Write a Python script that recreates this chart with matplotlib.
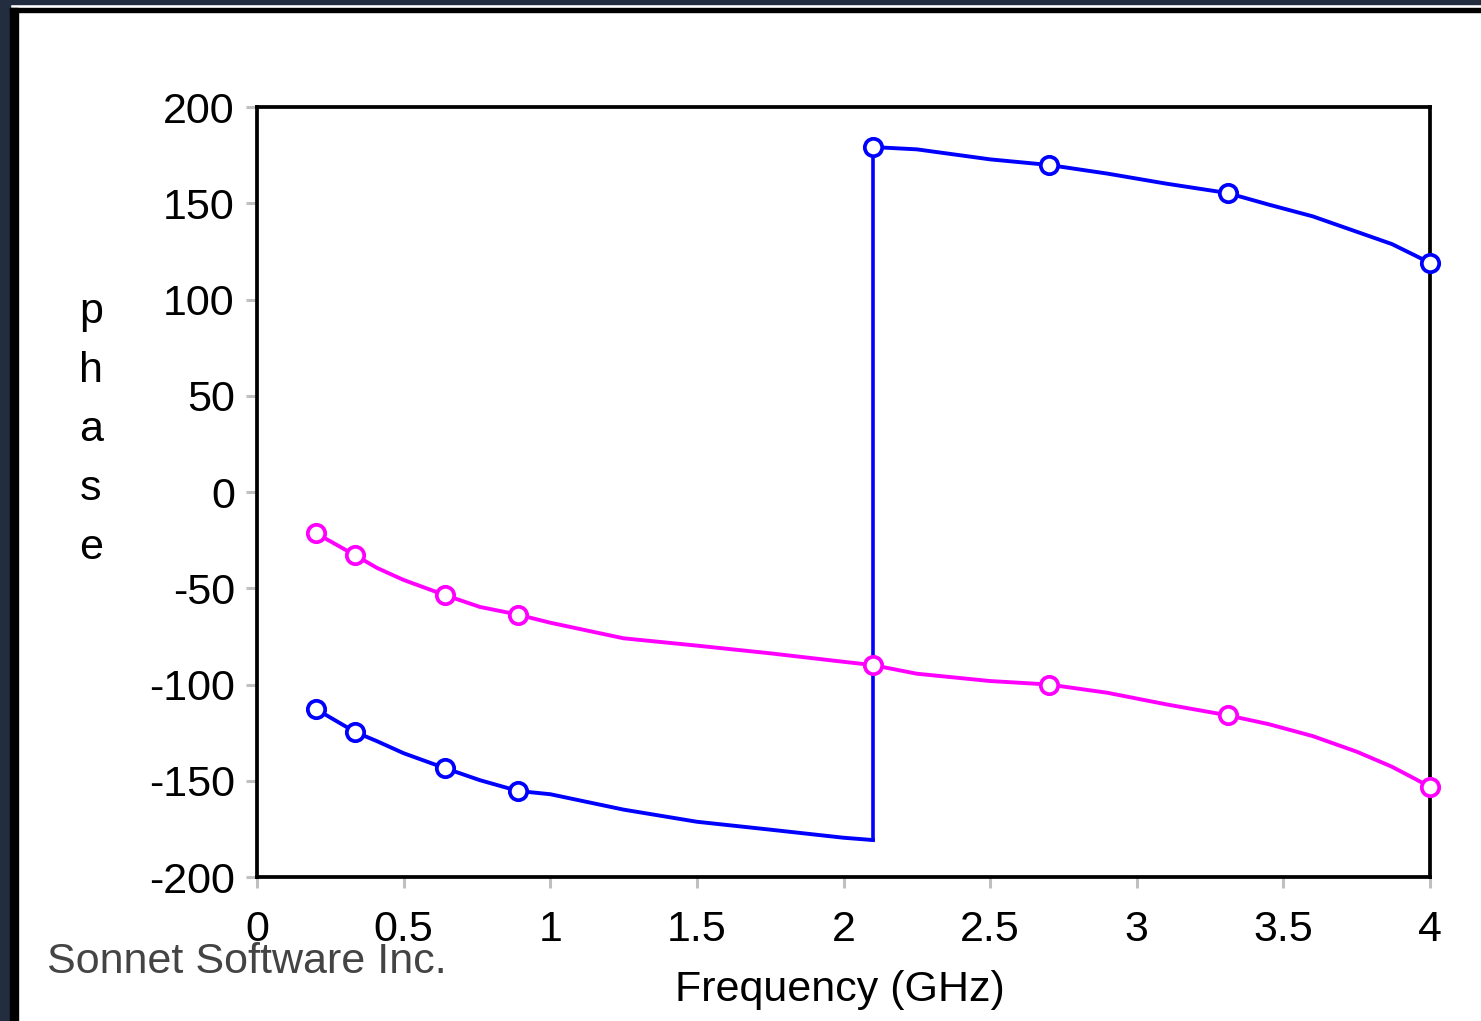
import matplotlib
matplotlib.use('Agg')
from matplotlib import pyplot as plt
from matplotlib.patches import Rectangle

plt.rcParams['font.family'] = ['Liberation Sans', 'DejaVu Sans']
plt.rcParams['axes.unicode_minus'] = False

# points on the traced curves (GHz, degrees)
freq = [0.2, 0.335, 0.41, 0.5, 0.64, 0.76, 0.89, 1.0, 1.25, 1.5, 1.75, 2.0, 2.1,
        2.25, 2.5, 2.7, 2.9, 3.1, 3.31, 3.45, 3.6, 3.75, 3.87, 3.95, 4.0]
magenta_phase = [-21.3, -32.9, -39.5, -45.7, -53.5, -59.7, -63.7, -67.9, -76.0, -79.8,
                 -83.8, -88.2, -89.9, -94.4, -98.2, -100.0, -104.3, -110.3, -116.0,
                 -120.6, -126.8, -134.9, -142.7, -149.1, -153.2]

blue_freq_low = [0.2, 0.335, 0.41, 0.5, 0.64, 0.76, 0.89, 1.0, 1.25, 1.5, 1.75, 2.0, 2.1]
blue_phase_low = [-112.7, -124.7, -129.5, -135.7, -143.4, -149.7, -155.3, -157.0,
                  -165.0, -171.3, -175.4, -179.6, -180.8]
blue_freq_high = [2.1, 2.25, 2.5, 2.7, 2.9, 3.1, 3.31, 3.45, 3.6, 3.75, 3.87, 3.95, 4.0]
blue_phase_high = [179.2, 178.0, 172.8, 169.9, 165.4, 160.2, 155.3, 149.3, 143.2,
                   135.2, 128.8, 122.8, 119.0]

# simulated frequency points (markers)
marker_freq = [0.2, 0.335, 0.64, 0.89, 2.1, 2.7, 3.31, 4.0]
marker_magenta = [-21.3, -32.9, -53.5, -63.7, -89.9, -100.0, -116.0, -153.2]
marker_blue = [-112.7, -124.7, -143.4, -155.3, 179.2, 169.9, 155.3, 119.0]

x_ticks = [0, 0.5, 1, 1.5, 2, 2.5, 3, 3.5, 4]
x_tick_labels = ['0', '0.5', '1', '1.5', '2', '2.5', '3', '3.5', '4']
y_ticks = [-200, -150, -100, -50, 0, 50, 100, 150, 200]

fig = plt.figure(figsize=(14.81, 10.21), dpi=100)

# window frame
navy = '#222d40'
fig.patches.append(Rectangle((0, 1 - 4 / 1021), 1, 4 / 1021, transform=fig.transFigure,
                             color=navy, zorder=0))
fig.patches.append(Rectangle((0, 0), 10 / 1481, 1, transform=fig.transFigure,
                             color=navy, zorder=0))
fig.patches.append(Rectangle((10 / 1481, 1 - 12 / 1021), 1, 4 / 1021, transform=fig.transFigure,
                             color='black', zorder=0))
fig.patches.append(Rectangle((10 / 1481, 0), 8 / 1481, 1 - 8 / 1021, transform=fig.transFigure,
                             color='black', zorder=0))

ax = fig.add_axes([257 / 1481, 1 - 877 / 1021, 1173 / 1481, 770 / 1021])

ax.plot(freq, magenta_phase, color='#ff00ff', lw=2.8, clip_on=False)
ax.plot(blue_freq_low, blue_phase_low, color='#0000ff', lw=2.8, clip_on=False)
ax.plot([2.1, 2.1], [blue_phase_low[-1], blue_phase_high[0]], color='#0000ff', lw=2.6)
ax.plot(blue_freq_high, blue_phase_high, color='#0000ff', lw=2.8, clip_on=False)

ax.plot(marker_freq, marker_magenta, 'o', ms=12.5, mfc='white', mec='#ff00ff', mew=2.7,
        clip_on=False, zorder=4)
ax.plot(marker_freq, marker_blue, 'o', ms=12.5, mfc='white', mec='#0000ff', mew=2.7,
        clip_on=False, zorder=4)

ax.set_xlim(0, 4)
ax.set_ylim(-200, 200)
ax.set_xticks(x_ticks)
ax.set_xticklabels(x_tick_labels)
ax.set_yticks(y_ticks)

for s in ax.spines.values():
    s.set_linewidth(2.7)
    s.set_color('black')
ax.tick_params(axis='both', direction='out', length=8, width=2.2, color='#c0c0c0',
               labelsize=31, labelcolor='black')
ax.tick_params(axis='x', pad=16)
ax.tick_params(axis='y', pad=8)

# vertical "phase" label, one letter per line
for i, ch in enumerate('phase'):
    fig.text(91 / 1481, 1 - (312 + i * 59) / 1021, ch, fontsize=31,
             ha='center', va='center')

fig.text(840 / 1481, 1 - 990 / 1021, 'Frequency (GHz)', fontsize=31, ha='center', va='center')
fig.text(47 / 1481, 1 - 962 / 1021, 'Sonnet Software Inc.', fontsize=31, color='#444444',
         ha='left', va='center')

fig.savefig('out.png', dpi=100)
